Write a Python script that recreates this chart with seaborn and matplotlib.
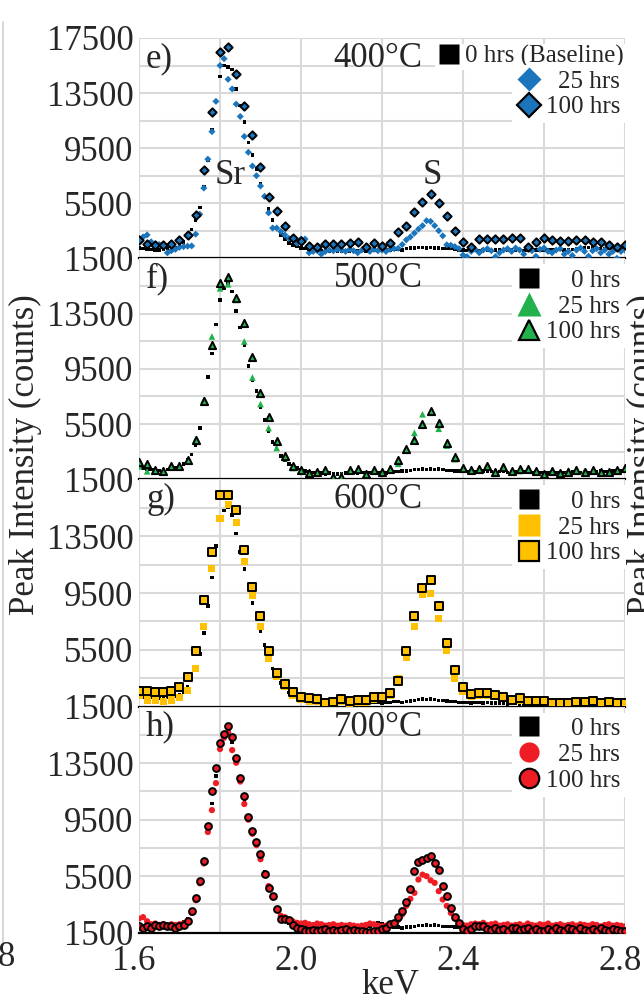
import numpy as np
import pandas as pd
import matplotlib
matplotlib.use("Agg")
import matplotlib.pyplot as plt
from matplotlib.lines import Line2D
from matplotlib.ticker import FuncFormatter
from matplotlib.transforms import ScaledTranslation
import seaborn as sns

# ---------------- data ----------------
kev_fine = np.round(1.60 + 0.01 * np.arange(121), 2)     # 0.01 keV channels
kev_coarse = np.round(1.60 + 0.02 * np.arange(61), 2)    # 0.02 keV channels

# e) 400 C
e_0h = [2250, 2200, 2150, 2150, 2100, 2100, 2150, 2200, 2250, 2300,
        2500, 2700, 3100, 3600, 4300, 5200, 6700, 8600, 10800, 12900,
        14700, 15500, 15400, 15200, 13800, 12600, 11400, 9900, 9000, 8000,
        6900, 5900, 5100, 4300, 3700, 3200, 2900, 2600, 2450, 2350,
        2250, 2200, 2150, 2100, 2050, 2050, 2000, 2000, 2050, 2000,
        2000, 2050, 2000, 2000, 2050, 2050, 2000, 2050, 2100, 2050,
        2050, 2100, 2100, 2150, 2150, 2100, 2200, 2250, 2250, 2300,
        2300, 2250, 2300, 2250, 2250, 2200, 2250, 2200, 2150, 2100,
        2100, 2050, 2100, 2100, 2050, 2100, 2100, 2050, 2100, 2100,
        2050, 2100, 2100, 2050, 2100, 2050, 2050, 2100, 2100, 2050,
        2100, 2100, 2150, 2100, 2150, 2100, 2150, 2150, 2200, 2250,
        2250, 2300, 2250, 2300, 2200, 2200, 2250, 2200, 2150, 2200,
        2200]
e_25h = [2900, 3050, 3200, 2700, 2550, 2500, 2300, 1900, 2050, 2150,
         2300, 2350, 2380, 2400, 3250, 4700, 6600, 8700, 10700, 12900,
         15500, 16000, 14500, 13800, 12700, 11800, 10350, 9200, 8200, 7500,
         6750, 6000, 4800, 3700, 3700, 3450, 3200, 2950, 2850, 2600,
         2900, 2900, 1900, 2000, 2050, 1800, 2000, 2100, 2050, 2150,
         2100, 2000, 2150, 2050, 1900, 2100, 2200, 2000, 2150, 2050,
         2100, 2000, 2150, 2200, 2230, 2500, 2840, 3050, 3330, 3620,
         3870, 4230, 4180, 3870, 3500, 3130, 2480, 2450, 2350, 2200,
         1740, 1620, 2000, 2150, 1900, 2100, 2200, 2050, 1620, 1900,
         2100, 2200, 2000, 2250, 2100, 1800, 2200, 2050, 1650, 2150,
         2250, 2000, 1900, 2100, 2200, 1800, 2000, 1700, 2100, 2250,
         2000, 1650, 2050, 2200, 1900, 2100, 1800, 2000, 1500, 2000,
         2100]
e_100h = [2840, 2530, 2430, 2430, 2550, 2820, 3160, 4670, 7890, 12110,
          16460, 16820, 14920, 12530, 10450, 8160, 5940, 4920, 3820, 2960,
          2750, 2380, 2350, 2550, 2550, 2520, 2580, 2700, 2350, 2620,
          2400, 2600, 3380, 3820, 4870, 5570, 6180, 5530, 4550, 3450,
          2720, 2350, 2890, 2890, 2890, 2890, 2960, 2960, 2300, 2720,
          2960, 2840, 2790, 2790, 2840, 2840, 2720, 2700, 2480, 2300, 2480]

# f) 500 C
f_0h = [2400, 2300, 2250, 2200, 2200, 2150, 2150, 2200, 2250, 2300,
        2400, 2600, 2900, 3300, 4000, 5200, 6900, 8900, 10600, 12700,
        14500, 15300, 15700, 15100, 13700, 12500, 11200, 9700, 8700, 7900,
        6700, 5800, 5000, 4200, 3700, 3200, 2900, 2600, 2450, 2300,
        2200, 2100, 2050, 2000, 1950, 1950, 1900, 1950, 1900, 1900,
        1900, 1950, 1950, 2000, 1950, 2000, 2000, 2000, 2050, 2000,
        2000, 1950, 2000, 2050, 2050, 2100, 2100, 2150, 2200, 2200,
        2250, 2200, 2250, 2200, 2250, 2200, 2150, 2150, 2100, 2100,
        2050, 2050, 2100, 2050, 2050, 2100, 2050, 2050, 2100, 2050,
        2050, 2000, 2050, 2050, 2000, 2050, 2000, 2000, 2050, 2000,
        2000, 1950, 2000, 2000, 1950, 2000, 2000, 2050, 2000, 2000,
        2050, 2000, 2050, 2050, 2100, 2050, 2050, 2100, 2100, 2100,
        2150]
f_25h = [2440, 2080, 2150, 2050, 2400, 2400, 2850, 4400, 7260, 11840,
         15330, 15620, 14490, 11480, 8870, 6950, 5210, 3770, 3040, 2320,
         2100, 1900, 2000, 2100, 1750, 1800, 2100, 2150, 1900, 2100,
         2000, 2200, 2620, 3700, 4870, 6210, 6350, 5160, 3940, 2960,
         2250, 2100, 2150, 2350, 2000, 2300, 2050, 2100, 2150, 2050,
         1850, 2050, 1900, 2150, 2250, 2100, 2100, 2000, 2000, 2100, 2250]
f_100h = [2750, 2610, 2200, 2080, 2440, 2440, 2920, 4370, 7190, 11190,
          15700, 16180, 14610, 12800, 10320, 7740, 5980, 4250, 3160, 2440,
          2200, 1960, 2060, 2180, 1700, 1700, 2180, 2230, 1890, 2180,
          2060, 2280, 2870, 3720, 4380, 5480, 6450, 5550, 4140, 3110,
          2350, 2180, 2230, 2480, 2060, 2380, 2130, 2230, 2230, 2130,
          1890, 2130, 1940, 2060, 2180, 2060, 2180, 2060, 2060, 2180, 2350]

# g) 600 C
g_0h = [2200, 2200, 2150, 2150, 2150, 2100, 2150, 2150, 2200, 2250,
        2350, 2550, 2900, 3400, 4200, 5200, 6700, 8600, 10600, 12800,
        14800, 15300, 15500, 15000, 13700, 12400, 11200, 10000, 8800, 7800,
        6800, 5850, 5000, 4200, 3600, 3150, 2800, 2500, 2350, 2200,
        2100, 2000, 1950, 1900, 1850, 1850, 1800, 1800, 1800, 1750,
        1800, 1750, 1750, 1800, 1750, 1800, 1750, 1800, 1800, 1800,
        1750, 1800, 1800, 1850, 1850, 1800, 1850, 1900, 1950, 2000,
        2050, 2000, 2050, 2000, 1950, 1950, 1900, 1850, 1850, 1800,
        1800, 1800, 1750, 1800, 1800, 1750, 1800, 1750, 1750, 1750,
        1750, 1700, 1750, 1750, 1700, 1700, 1750, 1700, 1700, 1700,
        1700, 1700, 1650, 1700, 1700, 1650, 1700, 1700, 1650, 1700,
        1700, 1650, 1700, 1650, 1700, 1700, 1650, 1700, 1650, 1700,
        1650]
g_25h = [2320, 1970, 1970, 1850, 1970, 2160, 2630, 4200, 7140, 11250,
         14710, 15720, 14430, 11720, 9300, 7140, 4910, 3620, 2910, 2320,
         2000, 1900, 1850, 1600, 1700, 1850, 1750, 1800, 1800, 2000,
         2050, 2300, 3500, 4980, 7140, 9370, 9490, 7730, 5450, 3500,
         2600, 2250, 2300, 2300, 2200, 2050, 1850, 1950, 1800, 1800,
         1800, 1650, 1600, 1650, 1750, 1750, 1800, 1700, 1750, 1650, 1650]
g_100h = [2630, 2630, 2560, 2510, 2600, 2860, 3620, 5420, 9020, 12360,
          16420, 16420, 15320, 12540, 9910, 7850, 5420, 3900, 3100, 2560,
          2200, 2090, 2020, 1780, 1850, 2020, 1900, 1970, 1970, 2200,
          2200, 2490, 3330, 5450, 7850, 9840, 10430, 8600, 5970, 4090,
          2860, 2390, 2440, 2440, 2320, 2160, 1970, 2090, 1920, 1920,
          1920, 1740, 1740, 1740, 1850, 1850, 1920, 1780, 1850, 1740, 1740]

# h) 700 C
h_0h = [2000, 1950, 1950, 1950, 1950, 1950, 2000, 2000, 2000, 2050,
        2100, 2250, 2500, 3000, 3800, 5000, 6500, 8700, 10660, 12600,
        14500, 15300, 15600, 15000, 13700, 12300, 10900, 9600, 8500, 7700,
        6900, 5800, 4800, 4000, 3200, 2700, 2400, 2200, 2100, 2000,
        1950, 1900, 1850, 1850, 1850, 1800, 1800, 1800, 1800, 1800,
        1850, 1800, 1850, 1800, 1850, 1850, 1900, 1950, 2100, 2200,
        2100, 2000, 1950, 1900, 1900, 1850, 1900, 1900, 1950, 2000,
        2000, 2050, 2000, 2050, 2000, 1950, 1950, 1950, 1900, 1900,
        1850, 1850, 1850, 1900, 1850, 1850, 1900, 1850, 1900, 1900,
        1850, 1900, 1850, 1900, 1900, 1850, 1900, 1900, 1900, 1850,
        1900, 1900, 1850, 1900, 1900, 1900, 1950, 1900, 1900, 1950,
        1900, 1950, 1900, 1900, 1950, 1900, 1950, 1900, 1900, 1950,
        1900]
h_25h = [2500, 2600, 2310, 2100, 2150, 2050, 2100, 2000, 2100, 2050,
         2100, 2150, 2350, 2900, 3800, 5000, 6400, 8630, 10180, 12090,
         14500, 15300, 15700, 14430, 13530, 12200, 10610, 9500, 8500, 7700,
         6700, 5600, 4800, 4000, 3100, 2700, 2600, 2400, 2300, 2200,
         2150, 2200, 2100, 2050, 2150, 2100, 2000, 2050, 2100, 2000,
         2050, 2000, 2050, 2000, 1950, 2000, 2050, 2150, 2100, 2000,
         1950, 2000, 2100, 2200, 2400, 2800, 3400, 3900, 4320, 5260,
         5610, 5500, 5210, 5030, 4440, 3850, 3400, 2900, 2500, 2200,
         2050, 2000, 2100, 2150, 2100, 2200, 2050, 2100, 2150, 2000,
         2050, 2100, 2000, 2050, 2100, 2000, 2150, 2050, 2000, 2100,
         2050, 2150, 2000, 2050, 2100, 2000, 2050, 2100, 2000, 2100,
         2050, 2000, 2100, 2050, 1950, 2050, 2100, 2000, 2050, 2000,
         1950]
h_100h = [1950, 1830, 1950, 1830, 2020, 1950, 2070, 1950, 1950, 1830,
          1950, 2070, 2310, 3070, 3930, 5130, 6600, 9060, 11500, 13170,
          14910, 15560, 16100, 15320, 13880, 12450, 11190, 9710, 8710, 7920,
          7080, 5650, 4630, 4100, 3150, 2500, 2500, 2430, 2070, 1830,
          1735, 1620, 1620, 1700, 1650, 1700, 1750, 1650, 1700, 1620,
          1700, 1750, 1650, 1700, 1620, 1650, 1550, 1550, 1600, 1650,
          1780, 1850, 2090, 2200, 2630, 3030, 3660, 4560, 5850, 6500,
          6620, 6790, 6950, 6450, 5970, 4790, 4130, 3260, 2630, 2200,
          1780, 1620, 1750, 1970, 1970, 1950, 1750, 1700, 1800, 1700,
          1750, 1650, 1800, 1850, 1700, 1750, 1800, 1650, 1750, 1600,
          1650, 1750, 1650, 1800, 1700, 1650, 1850, 1750, 1650, 1800,
          1700, 1650, 1750, 1650, 1800, 1700, 1650, 1750, 1700, 1600,
          1650]

panel_tags = ["e)", "f)", "g)", "h)"]
temps = ["400\u00b0C", "500\u00b0C", "600\u00b0C", "700\u00b0C"]
legend_labels = [["0 hrs (Baseline)", "25 hrs", "100 hrs"],
                 ["0 hrs", "25 hrs", "100 hrs"],
                 ["0 hrs", "25 hrs", "100 hrs"],
                 ["0 hrs", "25 hrs", "100 hrs"]]
x_ticks = [1.6, 2.0, 2.4, 2.8]
x_minor = [1.8, 2.2, 2.6]
y_ticks = [1500, 5500, 9500, 13500, 17500]
y_minor = [3500, 7500, 11500, 15500]

series = [
    (e_0h, (kev_fine, e_25h), (kev_coarse, e_100h)),
    (f_0h, (kev_coarse, f_25h), (kev_coarse, f_100h)),
    (g_0h, (kev_coarse, g_25h), (kev_coarse, g_100h)),
    (h_0h, (kev_fine, h_25h), (kev_fine, h_100h)),
]

# ---------------- style ----------------
colors = ["#1b75bc", "#22b14c", "#ffc000", "#ee1c25"]
markers = ["D", "^", "s", "o"]
size25 = [13, 23, 26, 20]
size100 = [18, 27, 26, 24]
leg_ms25 = [12.5, 17, 16, 14.5]
leg_ms100 = [12, 15, 14, 14]

sns.set_style("white")
plt.rcParams["font.family"] = ["Liberation Serif", "DejaVu Serif"]
FS = 25
LFS = 18

W, H = 644, 1002
fig = plt.figure(figsize=(W / 100, H / 100), dpi=100)
xl, xr = 139, 625
bounds = [38, 258.3, 479.3, 706.7, 932.7]
PX = 0.72  # points per pixel at 100 dpi

leg_kw = dict(frameon=True, facecolor="white", edgecolor="none", framealpha=1,
              fancybox=False, borderpad=0.2, borderaxespad=0, handlelength=1.0,
              handletextpad=0.16, labelspacing=0.13, numpoints=1,
              prop={"family": ["Liberation Serif"], "size": LFS}, loc="upper right")

legends = []
axes = []
for i in range(4):
    top, bot = bounds[i], bounds[i + 1]
    hpx = bot - top
    ax = fig.add_axes([xl / W, 1 - bot / H, (xr - xl) / W, hpx / H])
    axes.append(ax)
    base, (x25, y25), (x100, y100) = series[i]
    col, mk = colors[i], markers[i]

    sns.scatterplot(x=kev_fine, y=base, ax=ax, marker="s", s=6.5, color="black",
                    edgecolor="none", linewidth=0, zorder=3, legend=False)
    sns.scatterplot(x=x25, y=y25, ax=ax, marker=mk, s=size25[i], color=col,
                    edgecolor="none", linewidth=0, zorder=3.1, legend=False)
    sns.scatterplot(x=x100, y=y100, ax=ax, marker=mk, s=size100[i], color=col,
                    edgecolor="black", linewidth=1.4, zorder=3.2, legend=False)

    ax.set_xlim(1.6, 2.8)
    ax.set_ylim(1500, 17500)
    ax.set_xlabel("")
    ax.set_ylabel("")
    ax.set_xticks(x_ticks)
    ax.set_xticks(x_minor, minor=True)
    if i == 0:
        ax.set_yticks(y_ticks)
        ax.set_yticks(y_minor, minor=True)
    else:
        ax.set_yticks(y_ticks[:-1])
        ax.set_yticks(y_minor + [17500], minor=True)
    ax.yaxis.set_major_formatter(FuncFormatter(lambda v, p: f"{int(round(v))}"))
    ax.grid(True, which="both", color="#d9d9d9", lw=1.5)
    ax.set_axisbelow(True)
    for sp in ["top", "left", "right"]:
        ax.spines[sp].set_visible(False)
    ax.spines["bottom"].set_color("black")
    ax.spines["bottom"].set_linewidth(1.6)
    ax.spines["bottom"].set_zorder(2.9)
    ax.tick_params(axis="both", which="both", length=0)
    ax.tick_params(axis="y", pad=4, labelsize=FS)
    if i == 3:
        ax.tick_params(axis="x", which="major", length=7, width=1.2,
                       color="black", direction="out", labelsize=FS, pad=2)
    else:
        ax.tick_params(axis="x", labelbottom=False)

    ax.annotate(panel_tags[i], xy=(0, 1), xycoords="axes fraction",
                xytext=(7 * PX, -29 * PX), textcoords="offset points",
                ha="left", va="baseline", fontsize=FS, zorder=6)
    ax.annotate(temps[i], xy=(0.492, 1), xycoords="axes fraction",
                xytext=(0, -29 * PX), textcoords="offset points",
                ha="center", va="baseline", fontsize=FS, zorder=6)

    h0 = Line2D([], [], ls="none", marker="s", ms=14.5, mfc="black", mec="none")
    h25 = Line2D([], [], ls="none", marker=mk, ms=leg_ms25[i], mfc=col, mec="none")
    h100 = Line2D([], [], ls="none", marker=mk, ms=leg_ms100[i], mfc=col,
                  mec="black", mew=1.6)
    labs = legend_labels[i]
    if i == 0:
        l1 = ax.legend([h0], [labs[0]], bbox_to_anchor=(1, 1 - 6 / hpx),
                       **{**leg_kw, "borderpad": 0.05})
        ax.add_artist(l1)
        l2 = ax.legend([h25, h100], labs[1:], bbox_to_anchor=(1, 1 - 27 / hpx), **leg_kw)
        l1.set_zorder(5)
        l2.set_zorder(5)
        legends += [l1, l2]
    else:
        l = ax.legend([h0, h25, h100], labs, bbox_to_anchor=(1, 1 - 6 / hpx), **leg_kw)
        l.set_zorder(5)
        legends.append(l)

# peak labels (panel e)
axes[0].text(1.825, 6860, "Sr", ha="center", va="baseline", fontsize=FS, zorder=6)
axes[0].text(2.325, 6860, "S", ha="center", va="baseline", fontsize=FS, zorder=6)

# axis labels
fig.text(390 / W, 1 - 985 / H, "keV", ha="center", va="center", fontsize=FS)
fig.text(25 / W, 1 - 455 / H, "Peak Intensity (counts)", rotation=90,
         ha="center", va="center", fontsize=FS)
# neighbouring panels, cut by the crop of the original figure
fig.text(643 / W, 1 - 455 / H, "Peak Intensity (counts)", rotation=90,
         ha="center", va="center", fontsize=FS)
fig.text(16 / W, 1 - 957 / H, "2.8", ha="right", va="center", fontsize=FS)
fig.add_artist(Line2D([3 / W, 3 / W], [1 - 22 / H, 1 - 942 / H],
                      transform=fig.transFigure, color="#cfcfcf", lw=1.2))

# right-align legend texts; nudge x tick labels slightly left
fig.canvas.draw()
for l in legends:
    texts = l.get_texts()
    widths = [t.get_window_extent().width for t in texts]
    mw = max(widths)
    for t, w in zip(texts, widths):
        t.set_position((mw - w, 0))
shift = ScaledTranslation(-5 / 100, 0, fig.dpi_scale_trans)
for lab in axes[3].get_xticklabels():
    lab.set_transform(lab.get_transform() + shift)

fig.savefig("out.png", dpi=100, facecolor="white")
